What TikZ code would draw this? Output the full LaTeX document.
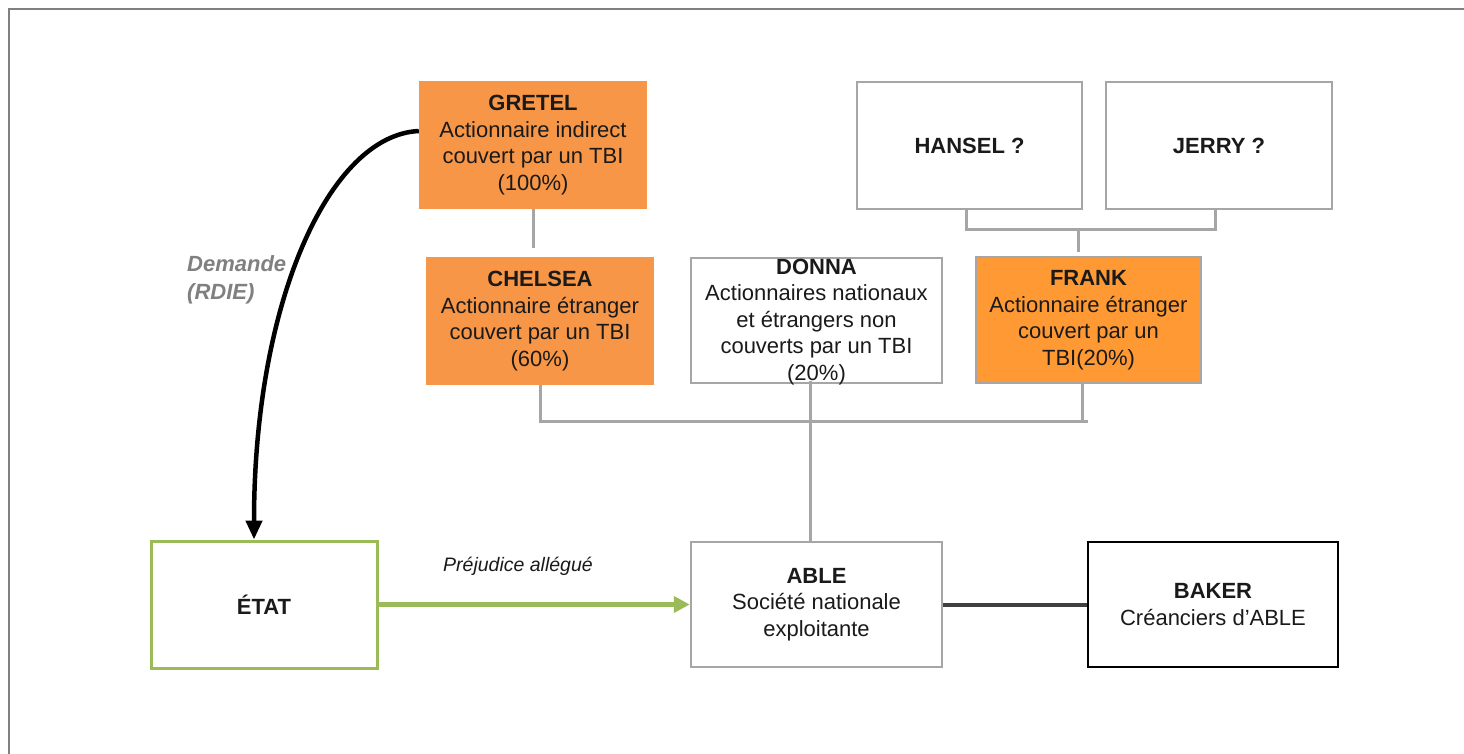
\documentclass[tikz,border=0pt]{standalone}
\usepackage{fontspec}
\setmainfont{Liberation Sans}
\usetikzlibrary{arrows.meta}
\definecolor{orA}{RGB}{247,150,70}
\definecolor{orB}{RGB}{255,153,51}
\definecolor{gline}{RGB}{166,166,166}
\definecolor{framec}{RGB}{128,128,128}
\definecolor{grn}{RGB}{155,187,89}
\definecolor{dk}{RGB}{64,64,64}
\definecolor{txt}{RGB}{26,26,26}
\begin{document}
\begin{tikzpicture}[x=1pt,y=-1pt,
  box/.style={rectangle, inner sep=0pt, align=center, text=txt,
    font=\fontsize{22}{26.5}\selectfont},
  obox/.style={box, fill=orA},
  gbox/.style={box, draw=gline, line width=2.5pt, fill=white},
  gl/.style={gline, line width=3pt},
]
\useasboundingbox (0,0) rectangle (1464,753);
\fill[white] (0,0) rectangle (1464,753);
\draw[framec, line width=2.5pt] (9,760) -- (9,9) -- (1470,9);

% boxes
\node[obox, minimum width=228pt, minimum height=128pt] (gretel) at (533,145)
  {\textbf{GRETEL}\\Actionnaire indirect\\couvert par un TBI\\(100\%)};
\node[obox, minimum width=228pt, minimum height=128pt] (chelsea) at (540,321)
  {\textbf{CHELSEA}\\Actionnaire étranger\\couvert par un TBI\\(60\%)};
\node[gbox, minimum width=251pt, minimum height=125pt] (donna) at (816.5,320.5)
  {};
\node[box] (donnat) at (816.5,322)
  {\textbf{DONNA}\\Actionnaires nationaux\\et étrangers non\\couverts par un TBI\\(20\%)};
\node[gbox, fill=orB, minimum width=225pt, minimum height=126pt] (frank) at (1088.5,320)
  {\textbf{FRANK}\\Actionnaire étranger\\couvert par un\\TBI(20\%)};
\node[gbox, minimum width=225pt, minimum height=127pt] (hansel) at (969.5,145.5)
  {\textbf{HANSEL ?}};
\node[gbox, minimum width=226pt, minimum height=127pt] (jerry) at (1219,145.5)
  {\textbf{JERRY ?}};
\node[box, draw=grn, line width=3pt, minimum width=226pt, minimum height=127pt] (etat) at (264,604.5)
  {\textbf{ÉTAT}};
\node[gbox, minimum width=251pt, minimum height=125pt] (able) at (816.5,604.5)
  {\textbf{ABLE}\\Société nationale\\exploitante};
\node[box, draw=black, line width=2.5pt, minimum width=250pt, minimum height=125pt] (baker) at (1213,604.5)
  {\textbf{BAKER}\\Créanciers d’ABLE};

% gray connectors
\coordinate (g1) at (533,248);
\draw[gl] (gretel.south) -- (g1);
\coordinate (h1) at (966,209);
\coordinate (h2) at (966,229);
\coordinate (j1) at (1215,209);
\coordinate (j2) at (1215,229);
\coordinate (hm) at (1078,229);
\coordinate (fk) at (1078,252);
\draw[gl] (h1) -- (h2) -- (j2) -- (j1);
\draw[gl] (hm) -- (fk);
\coordinate (c1) at (540,385);
\coordinate (c2) at (540,421);
\coordinate (b2) at (1088,421);
\coordinate (f1) at (1082,382);
\coordinate (f2) at (1082,421);
\draw[gl] (c1) -- (c2) -- (b2);
\draw[gl] (f1) -- (f2);
\coordinate (d1) at (810,381);
\draw[gl] (d1) -- (d1 |- able.north);

% curved demand arrow
\draw[black, line width=4.5pt, -{Triangle[length=19pt,width=16pt]}]
  ([yshift=14pt]gretel.west) .. controls (330,135) and (254,300) .. ([xshift=-10pt]etat.north);
\node[inner sep=0pt, anchor=west, align=left, text=framec,
  font=\fontsize{22}{28}\selectfont\bfseries\itshape] (dem) at (187,280) {Demande\\(RDIE)};

% green arrow
\draw[grn, line width=5pt, -{Triangle[length=16pt,width=16pt]}] (etat.east) -- (able.west);
\node[inner sep=0pt, text=txt, font=\fontsize{19.5}{24}\selectfont\itshape] (prej) at (518,566) {Préjudice allégué};

% baker link
\draw[dk, line width=4pt] (able.east) -- (baker.west);
\end{tikzpicture}
\end{document}
